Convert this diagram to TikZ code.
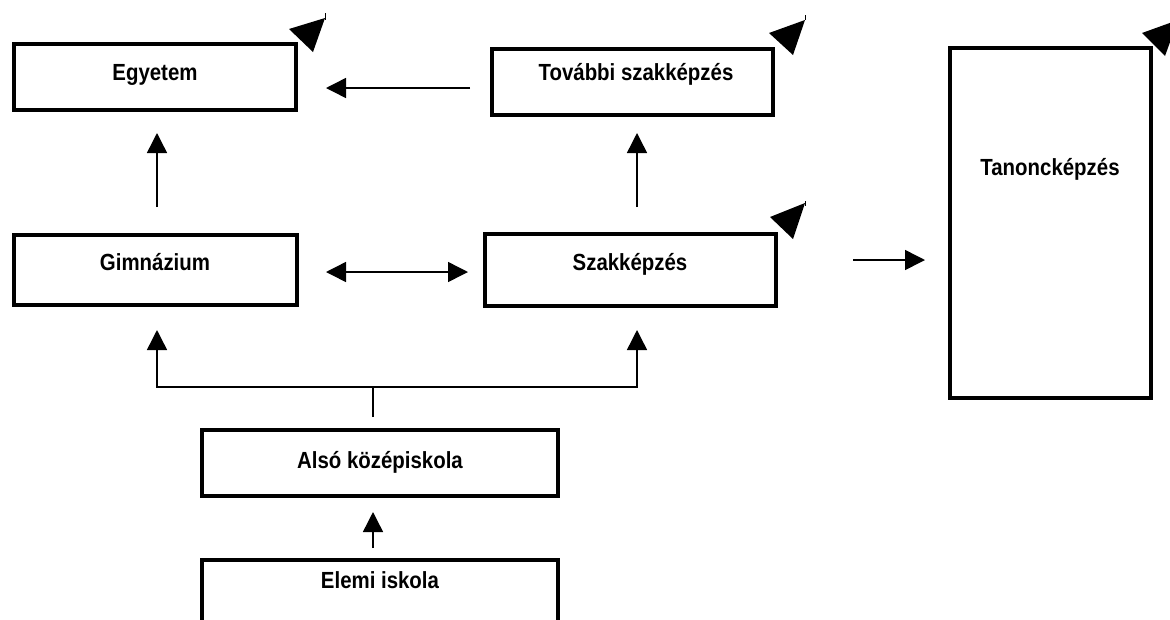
\documentclass[tikz,border=0pt]{standalone}
\usepackage{fontspec}
\setmainfont{Liberation Sans}[FakeStretch=0.875]
\usetikzlibrary{arrows.meta,calc}

\begin{document}
\begin{tikzpicture}[x=0.75pt,y=-0.75pt,
  box/.style={draw,rectangle,line width=3pt,inner sep=0pt},
  lbl/.style={anchor=base,inner sep=0pt,font=\fontsize{17.5pt}{20pt}\selectfont\bfseries},
  conn/.style={line width=1.1pt},
  arr/.style={conn,-{Triangle[length=15pt,width=15pt]}},
  darr/.style={conn,{Triangle[length=15pt,width=15pt]}-{Triangle[length=15pt,width=15pt]}},
  corner/.style={fill=black},
  stub/.style={line width=0.6pt}]

% page frame
\clip (0,0) rectangle (1170,619);

% boxes
\node[box,minimum width=211.5pt,minimum height=49.5pt]  (egy)   at (155,77)    {};
\node[box,minimum width=210.75pt,minimum height=49.5pt] (tov)   at (632.5,82)  {};
\node[box,minimum width=212.25pt,minimum height=52.5pt] (gim)   at (155.5,270) {};
\node[box,minimum width=218.25pt,minimum height=54pt]   (szak)  at (630.5,270) {};
\node[box,minimum width=267pt,minimum height=49.5pt]    (also)  at (380,463)   {};
\node[box,minimum width=267pt,minimum height=103.5pt]   (elemi) at (380,629)   {};
\node[box,minimum width=150.75pt,minimum height=262.5pt](tan)   at (1050.5,223){};

% labels
\node[lbl] (egyT)   at (155,80)    {Egyetem};
\node[lbl] (tovT)   at (636,80)    {További szakképzés};
\node[lbl] (gimT)   at (155,270)   {Gimnázium};
\node[lbl] (szakT)  at (630,270)   {Szakképzés};
\node[lbl] (alsoT)  at (380,468)   {Alsó középiskola};
\node[lbl] (elemiT) at (380,588)   {Elemi iskola};
\node[lbl] (tanT)   at (1050,175)  {Tanoncképzés};

% corner markers
\fill[corner] (289,29) -- (325,18) -- (313,52) -- cycle;
\draw[stub] (325,13) -- (325,20);
\fill[corner] (769,33) -- (805,20) -- (793,55) -- cycle;
\draw[stub] (805,15) -- (805,20);
\fill[corner] (770,217) -- (805,203) -- (793,239) -- cycle;
\draw[stub] (805,201) -- (805,206);
\fill[corner] (1142,33) -- (1178,20) -- (1165,56) -- cycle;

% connectors
\draw[arr] ($(tov.west)+(-20,6)$) -- ($(egy.east)+(28,11)$);
\draw[arr] ($(gim.north)+(1.5,-26)$) -- ($(egy.south)+(2,21)$);
\draw[arr] ($(szak.north)+(6.5,-25)$) -- ($(tov.south)+(4.5,16)$);
\draw[darr] ($(gim.east)+(27,2)$) -- ($(szak.west)+(-15,2)$);
\draw[arr] ($(szak.east)+(75,-10)$) -- ($(tan.west |- szak.east)+(-23,-10)$);

\coordinate (fork) at ($(also.north)+(-7,-41)$);
\draw[conn] ($(also.north)+(-7,-11)$) -- (fork);
\draw[arr] (fork) -| ($(gim.south)+(1.5,23)$);
\draw[arr] (fork) -| ($(szak.south)+(6.5,22)$);
\draw[arr] ($(elemi.north)+(-7,-10)$) -- ($(also.south)+(-7,14)$);
\end{tikzpicture}
\end{document}
